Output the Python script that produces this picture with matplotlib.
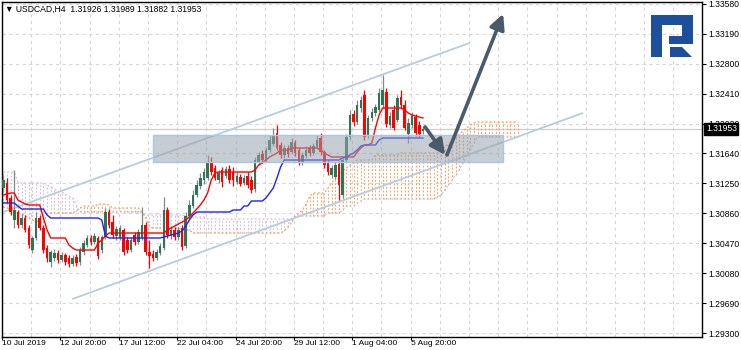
import matplotlib
matplotlib.use('Agg')
import matplotlib.pyplot as plt
from matplotlib.patches import Rectangle, Polygon
import matplotlib.transforms as mtransforms

# ---------------- data ----------------
symbol_header = "USDCAD,H4  1.31926 1.31989 1.31882 1.31953"
last_price = 1.31953

opens = [1.31186, 1.31251, 1.31056, 1.3077, 1.30874, 1.30705, 1.30796, 1.30666, 1.3038, 1.30536,
         1.30796, 1.30666, 1.30406, 1.30224, 1.30276, 1.30341, 1.3025, 1.30315, 1.30276, 1.30198,
         1.30289, 1.30224, 1.30354, 1.30445, 1.30536, 1.30484, 1.30536, 1.3038, 1.30549, 1.30874,
         1.30744, 1.30562, 1.30536, 1.3064, 1.3051, 1.3038, 1.30575, 1.30484, 1.30536, 1.30705,
         1.30354, 1.30328, 1.30276, 1.30341, 1.30406, 1.309, 1.30562, 1.3064, 1.30549, 1.30666,
         1.30432, 1.30822, 1.30952, 1.31095, 1.31212, 1.3129, 1.31316, 1.31524, 1.31446, 1.3129,
         1.3142, 1.31342, 1.31433, 1.31394, 1.31264, 1.31329, 1.31251, 1.31342, 1.3129, 1.31173,
         1.31524, 1.31628, 1.3155, 1.3168, 1.31758, 1.31901, 1.31745, 1.31615, 1.31706, 1.31654,
         1.31771, 1.3168, 1.31524, 1.31602, 1.31706, 1.31641, 1.31719, 1.31836, 1.31654, 1.31511,
         1.31355, 1.31329, 1.31498, 1.31095, 1.3155, 1.31849, 1.32148, 1.32044, 1.32226, 1.32395,
         1.31875, 1.32096, 1.32161, 1.322, 1.32265, 1.32434, 1.32005, 1.322, 1.3207, 1.32369,
         1.32265, 1.31888, 1.32005, 1.32109, 1.32005, 1.31926]
highs = [1.31355, 1.31316, 1.31095, 1.3142, 1.309, 1.30848, 1.30835, 1.30705, 1.30562, 1.30874,
         1.30835, 1.30705, 1.30445, 1.3038, 1.30393, 1.3038, 1.30354, 1.30341, 1.30315, 1.30315,
         1.30328, 1.30419, 1.3051, 1.30575, 1.30575, 1.30601, 1.30562, 1.30575, 1.30926, 1.30913,
         1.30835, 1.30692, 1.30705, 1.30666, 1.30549, 1.30549, 1.30614, 1.30653, 1.30939, 1.30744,
         1.3051, 1.3038, 1.30393, 1.30471, 1.31069, 1.30939, 1.30692, 1.30679, 1.30679, 1.30705,
         1.30874, 1.3103, 1.3116, 1.3129, 1.31381, 1.31446, 1.31615, 1.31589, 1.31485, 1.3142,
         1.31459, 1.31472, 1.31485, 1.31459, 1.31394, 1.31368, 1.31355, 1.31394, 1.31342, 1.31589,
         1.31654, 1.3168, 1.31719, 1.31875, 1.31966, 1.32005, 1.31784, 1.31745, 1.31745, 1.31836,
         1.3181, 1.31719, 1.31654, 1.31732, 1.31745, 1.31771, 1.31875, 1.31901, 1.3168, 1.3155,
         1.31485, 1.31524, 1.31537, 1.31576, 1.31888, 1.322, 1.322, 1.3233, 1.32382, 1.3246,
         1.32135, 1.32226, 1.32278, 1.32486, 1.32655, 1.32486, 1.32174, 1.32265, 1.32395, 1.3246,
         1.3233, 1.32096, 1.32174, 1.32148, 1.32057, 1.31989]
lows = [1.31134, 1.30991, 1.30835, 1.30666, 1.30666, 1.30666, 1.30614, 1.30406, 1.30341, 1.3051,
        1.3064, 1.30341, 1.30224, 1.30159, 1.30237, 1.30211, 1.30224, 1.30185, 1.30159, 1.30172,
        1.30172, 1.30185, 1.30315, 1.30419, 1.30445, 1.30458, 1.30263, 1.30341, 1.30523, 1.30666,
        1.30536, 1.3051, 1.3051, 1.30315, 1.30341, 1.30354, 1.30445, 1.30458, 1.3051, 1.30315,
        1.30146, 1.30237, 1.3025, 1.30315, 1.3038, 1.30536, 1.30523, 1.3051, 1.3051, 1.3038,
        1.30406, 1.3077, 1.30926, 1.31069, 1.31173, 1.31238, 1.3129, 1.31355, 1.3129, 1.31251,
        1.31199, 1.31316, 1.31251, 1.31212, 1.31238, 1.31212, 1.31225, 1.31186, 1.31121, 1.31134,
        1.31485, 1.31511, 1.31524, 1.31654, 1.31732, 1.3168, 1.31576, 1.31576, 1.31589, 1.31628,
        1.31602, 1.31485, 1.31485, 1.31576, 1.31602, 1.31615, 1.31693, 1.31615, 1.31446, 1.31355,
        1.31316, 1.31303, 1.3103, 1.31056, 1.31511, 1.3181, 1.31992, 1.32018, 1.32174, 1.3181,
        1.31836, 1.32057, 1.32122, 1.32174, 1.32226, 1.31979, 1.31966, 1.3194, 1.32044, 1.32226,
        1.3194, 1.31771, 1.31966, 1.31862, 1.31849, 1.31882]
closes = [1.3129, 1.3103, 1.30874, 1.309, 1.30705, 1.30796, 1.3064, 1.30445, 1.30536, 1.30796,
          1.30666, 1.3038, 1.30276, 1.30354, 1.30341, 1.3025, 1.30315, 1.30224, 1.30198, 1.30276,
          1.30211, 1.3038, 1.30471, 1.30536, 1.30484, 1.30562, 1.30302, 1.30549, 1.30874, 1.30705,
          1.30575, 1.30653, 1.30666, 1.30354, 1.3038, 1.3051, 1.30484, 1.30614, 1.30705, 1.30354,
          1.30302, 1.30276, 1.30354, 1.30432, 1.309, 1.30575, 1.3064, 1.30549, 1.3064, 1.30419,
          1.30822, 1.30965, 1.31095, 1.31225, 1.31316, 1.31394, 1.31511, 1.31394, 1.31316, 1.31381,
          1.31264, 1.31433, 1.3129, 1.3129, 1.31342, 1.31238, 1.31316, 1.31225, 1.3116, 1.3155,
          1.31615, 1.3155, 1.3168, 1.3181, 1.31875, 1.31706, 1.31615, 1.31706, 1.31628, 1.31784,
          1.31641, 1.31524, 1.31615, 1.3168, 1.31641, 1.31732, 1.3181, 1.31654, 1.31485, 1.31394,
          1.31446, 1.31485, 1.31225, 1.3155, 1.31849, 1.32135, 1.32044, 1.32265, 1.3233, 1.31849,
          1.32096, 1.32174, 1.32239, 1.32421, 1.3246, 1.32018, 1.32122, 1.31966, 1.32356, 1.32265,
          1.31966, 1.32031, 1.32122, 1.31901, 1.31888, 1.31953]

tenkan = ([1.31095, 1.31108, 1.31121, 1.31121, 1.3103, 1.31004, 1.30978, 1.30965, 1.30965, 1.30965,
           1.30965, 1.30796, 1.3064] + [1.30536] * 5 + [1.30445, 1.30406] + [1.3038] * 6 +
          [1.30471, 1.3051, 1.30562] + [1.30601] * 16 +
          [1.3064, 1.30666, 1.30692, 1.30718, 1.30744, 1.3077, 1.30809, 1.30861, 1.30913, 1.30965,
           1.3103, 1.31121, 1.3129, 1.31381] + [1.31394] * 10 +
          [1.3142, 1.31485, 1.31511, 1.3155, 1.31589, 1.31615, 1.31641] + [1.3168] * 3 +
          [1.31706] * 8 + [1.3168, 1.31641, 1.31615] + [1.31589] * 7 +
          [1.31654, 1.31706, 1.31745, 1.31745, 1.31771, 1.31966, 1.32135] + [1.32226] * 6 +
          [1.322, 1.32161, 1.32135, 1.32122, 1.32109, 1.32096])
kijun = ([1.30991] * 4 + [1.30952] + [1.30913] * 7 + [1.30835] + [1.30796] * 14 +
         [1.3077, 1.30562] + [1.30536] * 15 +
         [1.30549, 1.30562, 1.30575, 1.30588, 1.30601, 1.30627, 1.30692, 1.3077, 1.30835] +
         [1.30874] * 10 + [1.309] * 3 + [1.30952] * 2 + [1.31017] * 4 +
         [1.31056, 1.31121, 1.31186, 1.31316, 1.31459] + [1.3155] * 16 +
         [1.31576, 1.31589, 1.31615, 1.31641, 1.3168, 1.31732] + [1.31745] * 4 +
         [1.3181] + [1.31836] * 12)
span_a = ([1.30939, 1.30926, 1.30913, 1.309, 1.30874, 1.30848, 1.30822, 1.30796, 1.3077, 1.30757,
           1.30744, 1.30731, 1.30848] + [1.30861] * 7 + [1.30887, 1.30926] + [1.30952] * 4 +
          [1.30978] * 3 + [1.30965] + [1.30926] * 8 + [1.30874, 1.30796, 1.30692] +
          [1.30666] * 8 + [1.3064] * 3 + [1.30601] * 25 +
          [1.30627, 1.30679, 1.30744, 1.30809, 1.30861, 1.309, 1.30978, 1.31082] + [1.31121] * 4 +
          [1.31186, 1.31251, 1.31303, 1.31355, 1.31407, 1.31446, 1.31485, 1.31511] +
          [1.3155] * 5 + [1.31615] * 7 + [1.31641] * 11 +
          [1.3168, 1.31719, 1.31758, 1.31797, 1.31836, 1.31888, 1.31927, 1.31966, 1.32005, 1.32031] +
          [1.32044] * 12)
span_b = ([1.31394] * 4 + [1.31264] + [1.31251] * 7 +
          [1.31225, 1.31199, 1.31173, 1.31147, 1.31134, 1.31108, 1.31082, 1.31056, 1.30965] +
          [1.30874] * 17 + [1.30861] + [1.30835] * 11 + [1.30822] + [1.30809] * 5 +
          [1.30783] * 24 + [1.30822] * 9 + [1.30861] * 4 + [1.309] + [1.30952] * 3 +
          [1.30991, 1.31017] + [1.31043] * 20 +
          [1.31069, 1.31095, 1.3116, 1.31225, 1.3129, 1.31355, 1.3142, 1.31511, 1.31602, 1.3168,
           1.31771] + [1.31849] * 12)

price_ticks = [1.29300, 1.29690, 1.30080, 1.30470, 1.30860, 1.31250,
               1.31640, 1.32020, 1.32410, 1.32800, 1.33190, 1.33580]
date_labels = ["10 Jul 2019", "12 Jul 20:00", "17 Jul 12:00", "22 Jul 04:00",
               "24 Jul 20:00", "29 Jul 12:00", "1 Aug 04:00", "5 Aug 20:00"]
date_label_bars = [0, 16, 32, 48, 64, 80, 96, 112]

# drawings (bar index, price)
channel_upper = [(0.0, 1.30874), (127.9, 1.33073)]
channel_lower = [(18.9, 1.29742), (158.9, 1.32162)]
zone = (41.1, 137.0, 1.31524, 1.31876)   # x0, x1, y0, y1
arrow_down = [(115.6, 1.31980), (121.1, 1.31616)]
arrow_up = [(121.6, 1.31616), (137.0, 1.33450)]

# ---------------- figure ----------------
W, H = 741, 350
fig = plt.figure(figsize=(W / 100, H / 100), dpi=100)
fig.patch.set_facecolor('white')
ax = fig.add_axes([2 / W, 13 / H, 700 / W, 335 / H])
ax.set_xlim(-0.27, 191.5)
ax.set_ylim(1.29249, 1.33604)

FONT = ['Liberation Sans', 'DejaVu Sans']
plt.rcParams['font.family'] = FONT

grid_kw = dict(color='#d6d6d6', lw=0.8, ls=(0, (3, 3)), zorder=0)
for p in price_ticks:
    ax.axhline(p, **grid_kw)
for k in range(0, 25):
    ax.axvline(8 * k - 0.35, **grid_kw)

# bid line
ax.axhline(last_price, color='#cfcfcf', lw=0.9, zorder=1)

# Ichimoku cloud (dotted hatch)
n_span = len(span_a)
xs = list(range(n_span))
for j in xs:
    a, b = span_a[j], span_b[j]
    col = '#f4a460' if a >= b else '#d8bfd8'
    ax.vlines(j, min(a, b), max(a, b), colors=col, lw=0.8,
              linestyles=[(0, (1.6, 1.6))], zorder=2)
ax.plot(xs, span_a, color='#f4a460', lw=0.9, ls=(0, (1.6, 1.6)), zorder=2)
ax.plot(xs, span_b, color='#d8bfd8', lw=0.9, ls=(0, (1.6, 1.6)), zorder=2)

# channel lines
for line in (channel_upper, channel_lower):
    ax.plot([line[0][0], line[1][0]], [line[0][1], line[1][1]],
            color='#b7cddb', lw=1.3, zorder=3, solid_capstyle='butt')

# candles
bull_body = '#2f7553'
bull_wick = '#7f8c86'
bear = '#ff0000'
n = len(opens)
for i in range(n):
    o, h, l, c = opens[i], highs[i], lows[i], closes[i]
    up = c >= o
    ax.vlines(i, l, h, colors=bull_wick if up else bear, lw=0.9, zorder=4)
    bottom = min(o, c)
    height = max(abs(c - o), 0.00004)
    ax.bar(i, height, bottom=bottom, width=0.7, color=bull_body if up else bear,
           edgecolor='none', zorder=4.5)

# tenkan / kijun
ax.plot(range(len(tenkan)), tenkan, color='#ff0000', lw=1.0, zorder=5)
ax.plot(range(len(kijun)), kijun, color='#2020ff', lw=1.0, zorder=5)

# zone rectangle
x0, x1, y0, y1 = zone
ax.add_patch(Rectangle((x0, y0), x1 - x0, y1 - y0, facecolor='#98a4b0', alpha=0.55,
                       edgecolor='none', zorder=6))
ax.add_patch(Rectangle((x0, y0), x1 - x0, y1 - y0, facecolor='none',
                       edgecolor='#a9c6e6', lw=1.0, zorder=6.1))

# arrows
for arr in (arrow_down, arrow_up):
    ax.annotate('', xy=arr[1], xytext=arr[0],
                arrowprops=dict(arrowstyle='-|>,head_length=0.9,head_width=0.45',
                                lw=2.6, color='#4a5a68', shrinkA=0, shrinkB=0),
                zorder=7)

# axes styling
for s in ax.spines.values():
    s.set_color('black')
    s.set_linewidth(1.0)
ax.yaxis.tick_right()
ax.set_yticks(price_ticks)
ax.set_yticklabels(['%.5f' % p for p in price_ticks])
ax.tick_params(axis='y', direction='out', length=3, width=0.8, pad=1.5,
               labelsize=6.2, colors='black')
ax.set_xticks([b - 0.35 for b in date_label_bars])
ax.set_xticklabels(date_labels)
ax.tick_params(axis='x', direction='out', length=2, width=0.8, pad=0.3,
               labelsize=6.0, colors='black')
for lbl in ax.get_xticklabels():
    lbl.set_ha('left')
for lbl in ax.get_xticklabels() + ax.get_yticklabels():
    lbl.set_family(FONT)

# current price label
trans = mtransforms.blended_transform_factory(ax.transAxes, ax.transData)
ax.text(1.0 + 4 / 700, last_price, '%.5f' % last_price, transform=trans,
        ha='left', va='center', fontsize=6.2, color='white', family=FONT,
        bbox=dict(boxstyle='square,pad=0.18', facecolor='black', edgecolor='black'),
        zorder=10, clip_on=False)

# header
fig.text(5 / W, 1 - 9 / H, '\u25BC ' + symbol_header, fontsize=6.2, family=FONT,
         ha='left', va='center', color='black')

# logo
def px(pts):
    return [(x / W, 1 - y / H) for x, y in pts]

logo_col = '#1d4f9c'
main = px([(651, 15), (693, 15), (693, 44), (669, 44), (669, 36), (682, 36),
           (682, 25), (662, 25), (662, 57), (651, 57)])
tail = px([(670, 47), (682, 47), (692, 57), (670, 57)])
for poly in (main, tail):
    fig.patches.append(Polygon(poly, closed=True, transform=fig.transFigure,
                               facecolor=logo_col, edgecolor='none'))

fig.savefig('out.png', dpi=100)
